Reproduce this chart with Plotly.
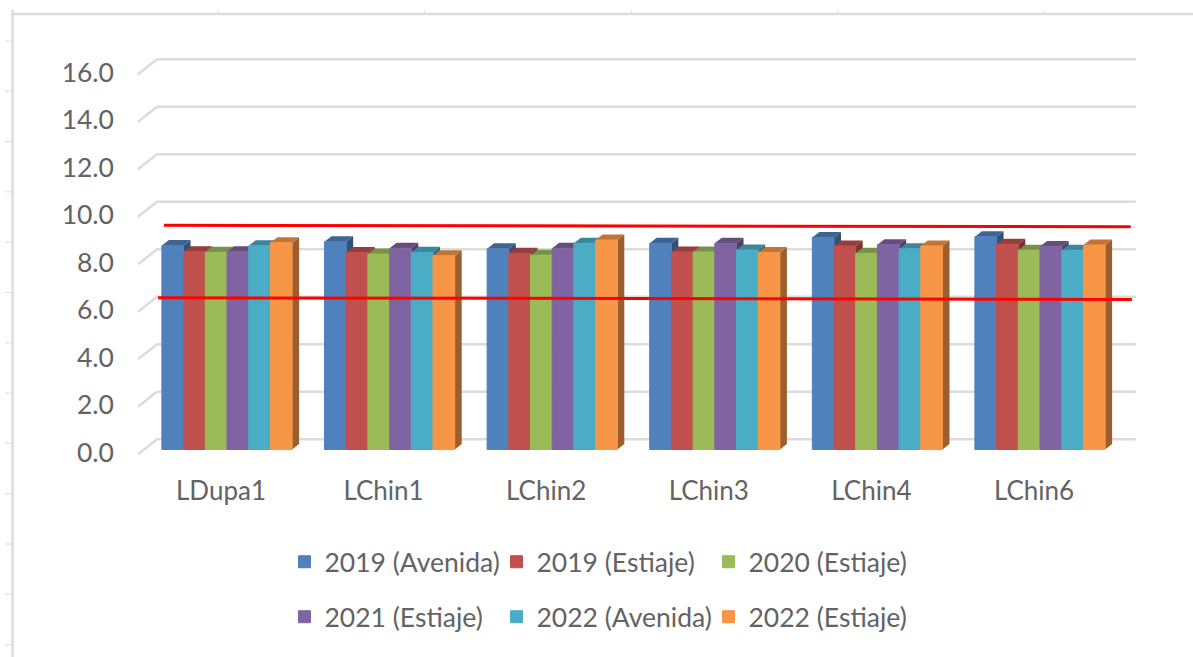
import plotly.graph_objects as go

# Water-quality readings per monitoring station and campaign
stations = ["LDupa1", "LChin1", "LChin2", "LChin3", "LChin4", "LChin6"]
campaigns_row1 = ["2019 (Avenida)", "2019 (Estiaje)", "2020 (Estiaje)"]
campaigns_row2 = ["2021 (Estiaje)", "2022 (Avenida)", "2022 (Estiaje)"]

avenida_2019 = [8.59, 8.75, 8.45, 8.68, 8.93, 8.96]
estiaje_2019 = [8.33, 8.29, 8.26, 8.32, 8.57, 8.64]
estiaje_2020 = [8.30, 8.23, 8.18, 8.32, 8.26, 8.39]
estiaje_2021 = [8.33, 8.47, 8.47, 8.68, 8.62, 8.55]
avenida_2022 = [8.58, 8.30, 8.68, 8.40, 8.45, 8.39]
estiaje_2022 = [8.71, 8.16, 8.82, 8.29, 8.57, 8.61]

value_ticks = [0, 2, 4, 6, 8, 10, 12, 14, 16]
tick_labels = ["0.0", "2.0", "4.0", "6.0", "8.0", "10.0", "12.0", "14.0", "16.0"]

# Reference limits, hand-drawn across the chart
upper_limit_x = [-0.388, 5.558]
upper_limit_y = [9.44, 9.38]
lower_limit_x = [-0.424, 5.565]
lower_limit_y = [6.39, 6.32]

series = [avenida_2019, estiaje_2019, estiaje_2020, estiaje_2021, avenida_2022, estiaje_2022]
names = campaigns_row1 + campaigns_row2
colors = ["#4f81bd", "#c0504d", "#9bbb59", "#8064a2", "#4bacc6", "#f79646"]

WIDTH, HEIGHT = 1193, 657
PLOT_L, PLOT_R, PLOT_T, PLOT_B = 125, 1170, 30, 470
PX_PER_STATION = 162.6
PX_PER_UNIT = 23.75
ORIGIN_X, ORIGIN_Y = 227.0, 449.5

x_range = [(PLOT_L - ORIGIN_X) / PX_PER_STATION, (PLOT_R - ORIGIN_X) / PX_PER_STATION]
y_range = [(ORIGIN_Y - PLOT_B) / PX_PER_UNIT, (ORIGIN_Y - PLOT_T) / PX_PER_UNIT]

BAR_W = 21.7 / PX_PER_STATION
DEPTH_X = 7.0 / PX_PER_STATION
DEPTH_Y = 5.5 / PX_PER_UNIT

# Pseudo-3D wall and floor offsets, in axis units
WALL_RISE = 0.43
FLOOR_DROP = -0.2
WALL_LEFT = -0.4305
WALL_RIGHT = 5.59
FLOOR_LEFT = -0.547


def shade(hex_color, factor):
    r, g, b = (int(hex_color[i:i + 2], 16) for i in (1, 3, 5))
    return "#%02x%02x%02x" % (int(r * factor), int(g * factor), int(b * factor))


def polygon(points):
    return "M" + " L".join(f"{x:.4f},{y:.4f}" for x, y in points) + " Z"


shapes = []

# Back-wall gridlines with their slanted floor stubs
for tick in value_ticks:
    shapes.append(dict(
        type="path", xref="x", yref="y", layer="below",
        path=f"M{FLOOR_LEFT},{tick + FLOOR_DROP} L{WALL_LEFT},{tick + WALL_RISE} L{WALL_RIGHT},{tick + WALL_RISE}",
        line=dict(color="#dcdcdc", width=2.5),
    ))

# Side and top faces of each column, left to right so neighbours overlap correctly
for g in range(len(stations)):
    for s, values in enumerate(series):
        left = g + (s - 3) * BAR_W
        right = left + BAR_W
        v = values[g]
        side = polygon([(right, 0), (right + DEPTH_X, DEPTH_Y), (right + DEPTH_X, v + DEPTH_Y), (right, v)])
        top = polygon([(left, v), (left + DEPTH_X, v + DEPTH_Y), (right + DEPTH_X, v + DEPTH_Y), (right, v)])
        shapes.append(dict(type="path", xref="x", yref="y", layer="below", path=side,
                           fillcolor=shade(colors[s], 0.63), line=dict(width=0)))
        shapes.append(dict(type="path", xref="x", yref="y", layer="below", path=top,
                           fillcolor=shade(colors[s], 0.78), line=dict(width=0)))


def paper_x(px):
    return (px - PLOT_L) / (PLOT_R - PLOT_L)


def paper_y(px):
    return (PLOT_B - px) / (PLOT_B - PLOT_T)


def frame_line(x0, y0, x1, y1, width):
    return dict(type="line", xref="paper", yref="paper",
                x0=paper_x(x0), y0=paper_y(y0), x1=paper_x(x1), y1=paper_y(y1),
                line=dict(color="#dcdcdc", width=width))


# Outer frame and its small tick marks along the top and left edges
shapes.append(frame_line(12.5, 14, WIDTH, 14, 2.5))
shapes.append(frame_line(12.5, 10, 12.5, HEIGHT, 2.5))
for px in [218, 425, 631, 838, 1044]:
    shapes.append(frame_line(px, 10, px, 14, 1))
for k in range(13):
    py = 41 + 50.3 * k
    shapes.append(frame_line(5, py, 12, py, 1))

fig = go.Figure()

for s, values in enumerate(series):
    fig.add_trace(go.Bar(
        x=list(range(len(stations))), y=values, name=names[s],
        marker=dict(color=colors[s], line=dict(color=colors[s], width=1)),
        legend="legend" if s < 3 else "legend2",
    ))

for xs, ys in [(upper_limit_x, upper_limit_y), (lower_limit_x, lower_limit_y)]:
    fig.add_trace(go.Scatter(x=xs, y=ys, mode="lines", showlegend=False,
                             line=dict(color="#ff0000", width=3)))

FONT = "Lato, Carlito, Calibri, sans-serif"
TEXT = "#636363"
legend_style = dict(
    orientation="h", xanchor="left", yanchor="middle",
    x=paper_x(284.5), entrywidth=167, entrywidthmode="pixels",
    font=dict(family=FONT, size=26.5, color=TEXT),
    bgcolor="rgba(0,0,0,0)", traceorder="normal",
)

fig.update_layout(
    width=WIDTH, height=HEIGHT, autosize=False,
    margin=dict(l=PLOT_L, r=WIDTH - PLOT_R, t=PLOT_T, b=HEIGHT - PLOT_B, pad=0),
    paper_bgcolor="white", plot_bgcolor="rgba(0,0,0,0)",
    barmode="group", bargap=1 - 6 * BAR_W, bargroupgap=0,
    shapes=shapes,
    font=dict(family=FONT, size=26, color=TEXT),
    xaxis=dict(
        range=x_range, tickmode="array", tickvals=list(range(len(stations))), ticktext=stations,
        showgrid=False, zeroline=False, showline=False, ticks="",
        ticklabelshift=-6, ticklabelstandoff=3,
        tickfont=dict(family=FONT, size=26, color=TEXT),
    ),
    yaxis=dict(
        range=y_range, tickmode="array", tickvals=value_ticks, ticktext=tick_labels,
        showgrid=False, zeroline=False, showline=False, ticks="",
        ticklabelshift=3, ticklabelstandoff=10,
        tickfont=dict(family=FONT, size=26.5, color=TEXT),
    ),
    legend=dict(legend_style, y=paper_y(562)),
    legend2=dict(legend_style, y=paper_y(617)),
)

fig.write_html("out.html")
